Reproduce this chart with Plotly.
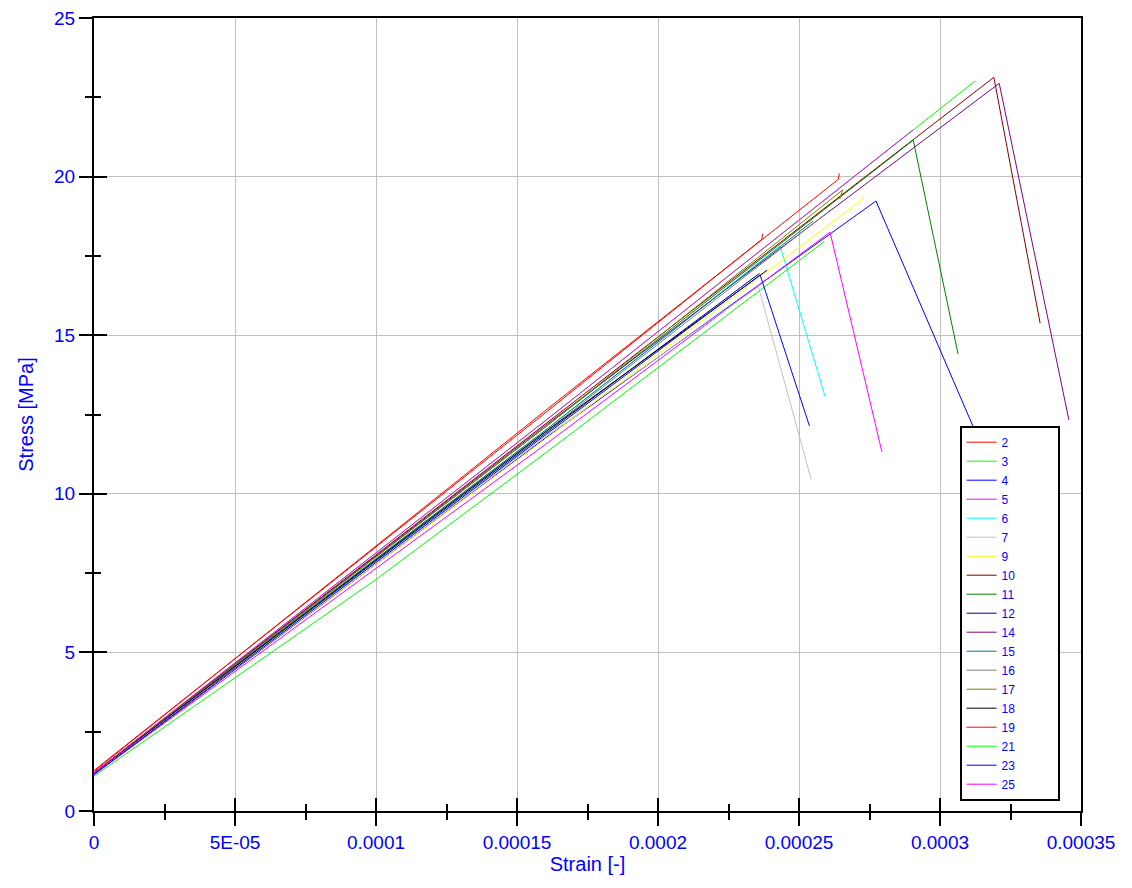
import plotly.graph_objects as go

# ---- data ----
names = ["2", "3", "4", "5", "6", "7", "9", "10", "11", "12", "14", "15",
         "16", "17", "18", "19", "21", "23", "25"]
colors = ["#FF0000", "#00FF00", "#0000FF", "#FF00FF", "#00FFFF", "#C0C0C0",
          "#FFFF00", "#800000", "#008000", "#000080", "#800080", "#008080",
          "#808080", "#808000", "#000000", "#FF0000", "#00FF00", "#0000FF",
          "#FF00FF"]

strain_2 = [0, 0.00016, 0.0002639, 0.0002643]
stress_2 = [1.25, 12.62, 19.91, 20.10]
strain_3 = [0, 0.00016, 0.0003124]
stress_3 = [1.2, 12.3, 23.01]
strain_4 = [0, 0.00016, 0.0002773, 0.000319]
stress_4 = [1.15, 11.75, 19.23, 10.62]
strain_5 = [0, 0.00016, 0.000261, 0.0002794]
stress_5 = [1.15, 11.55, 18.25, 11.32]
strain_6 = [0, 0.00016, 0.0002433, 0.0002592]
stress_6 = [1.2, 12.0, 17.81, 13.08]
strain_7 = [0, 0.00016, 0.0002356, 0.0002543]
stress_7 = [1.2, 11.8, 16.53, 10.46]
strain_9 = [0, 0.00016, 0.0002722, 0.0002728]
stress_9 = [1.2, 11.72, 19.26, 19.37]
strain_10 = [0, 0.00016, 0.0003191, 0.0003355]
stress_10 = [1.2, 12.2, 23.13, 15.38]
strain_11 = [0, 0.00016, 0.0002905, 0.0003064]
stress_11 = [1.2, 12.1, 21.15, 14.41]
strain_12 = [0, 0.00016, 0.000236]
stress_12 = [1.2, 11.9, 16.95]
strain_14 = [0, 0.00016, 0.000321, 0.0003457]
stress_14 = [1.2, 12.15, 22.94, 12.33]
strain_15 = [0, 0.00016, 0.000255]
stress_15 = [1.2, 12.0, 18.6]
strain_16 = [0, 0.00016, 0.000262]
stress_16 = [1.2, 11.95, 19.0]
strain_17 = [0, 0.00016, 0.0002655, 0.0002645]
stress_17 = [1.2, 12.1, 19.58, 19.3]
strain_18 = [0, 0.00016, 0.0002387]
stress_18 = [1.2, 11.95, 17.05]
strain_19 = [0, 0.00016, 0.0002368, 0.0002371]
stress_19 = [1.28, 12.55, 18.02, 18.19]
strain_21 = [0, 0.0001, 0.00016, 0.0002589]
stress_21 = [1.1, 7.3, 11.28, 17.95]
strain_23 = [0, 0.00016, 0.0002362, 0.0002537]
stress_23 = [1.15, 11.85, 16.90, 12.14]
strain_25 = [0, 0.00016, 0.0002904]
stress_25 = [1.2, 12.3, 21.47]

strains = [strain_2, strain_3, strain_4, strain_5, strain_6, strain_7, strain_9,
           strain_10, strain_11, strain_12, strain_14, strain_15, strain_16,
           strain_17, strain_18, strain_19, strain_21, strain_23, strain_25]
stresses = [stress_2, stress_3, stress_4, stress_5, stress_6, stress_7, stress_9,
            stress_10, stress_11, stress_12, stress_14, stress_15, stress_16,
            stress_17, stress_18, stress_19, stress_21, stress_23, stress_25]

x_tickvals = [0, 0.00005, 0.0001, 0.00015, 0.0002, 0.00025, 0.0003, 0.00035]
x_ticktext = ["0", "5E-05", "0.0001", "0.00015", "0.0002", "0.00025", "0.0003", "0.00035"]
y_tickvals = [0, 5, 10, 15, 20, 25]
y_ticktext = ["0", "5", "10", "15", "20", "25"]

FONT = "Liberation Sans, Arial, sans-serif"
BLUE = "#0000FF"
PAD = "\u00a0" * 11  # widens the legend box like the reference

fig = go.Figure()
for n, c, xs, ys in zip(names, colors, strains, stresses):
    fig.add_trace(go.Scatter(x=xs, y=ys, mode="lines", name=n + PAD,
                             line=dict(color=c, width=1)))

# invisible trace for the overlay axes (inside half of crossing ticks)
fig.add_trace(go.Scatter(x=[0], y=[0], xaxis="x2", yaxis="y2", mode="markers",
                         marker=dict(opacity=0), showlegend=False, hoverinfo="skip"))

fig.update_layout(
    width=1132, height=888,
    margin=dict(l=94, r=51, t=18, b=77),
    paper_bgcolor="white", plot_bgcolor="white",
    font=dict(family=FONT, color=BLUE),
    xaxis=dict(range=[0, 0.00035], tickvals=x_tickvals, ticktext=x_ticktext,
               tickfont=dict(size=19, color=BLUE, family=FONT),
               ticks="outside", ticklen=13, tickwidth=2, tickcolor="black",
               minor=dict(dtick=0.000025, ticks="outside", ticklen=7,
                          tickwidth=2, tickcolor="black", showgrid=False),
               showgrid=True, gridcolor="#C0C0C0", gridwidth=1,
               showline=True, linecolor="black", linewidth=2, mirror=True,
               zeroline=False, automargin=False,
               title=dict(text="Strain [-]", font=dict(size=20, color=BLUE, family=FONT),
                          standoff=4)),
    yaxis=dict(range=[0, 25], tickvals=y_tickvals, ticktext=y_ticktext,
               tickfont=dict(size=19, color=BLUE, family=FONT),
               ticks="outside", ticklen=13, tickwidth=2, tickcolor="black",
               minor=dict(dtick=2.5, ticks="outside", ticklen=7,
                          tickwidth=2, tickcolor="black", showgrid=False),
               showgrid=True, gridcolor="#C0C0C0", gridwidth=1,
               showline=True, linecolor="black", linewidth=2, mirror=True,
               zeroline=False, automargin=False,
               title=dict(text="Stress [MPa]", font=dict(size=20, color=BLUE, family=FONT),
                          standoff=15)),
    xaxis2=dict(overlaying="x", anchor="y2", side="bottom", range=[0, 0.00035],
                tickvals=x_tickvals, showticklabels=False,
                ticks="inside", ticklen=13, tickwidth=2, tickcolor="black",
                minor=dict(dtick=0.000025, ticks="inside", ticklen=7,
                           tickwidth=2, tickcolor="black", showgrid=False),
                showgrid=False, showline=False, zeroline=False, automargin=False),
    yaxis2=dict(overlaying="y", anchor="x2", side="left", range=[0, 25],
                tickvals=y_tickvals, showticklabels=False,
                ticks="inside", ticklen=13, tickwidth=2, tickcolor="black",
                minor=dict(dtick=2.5, ticks="inside", ticklen=7,
                           tickwidth=2, tickcolor="black", showgrid=False),
                showgrid=False, showline=False, zeroline=False, automargin=False),
    legend=dict(x=0.877, y=0.013, xanchor="left", yanchor="bottom",
                bgcolor="white", bordercolor="black", borderwidth=2,
                font=dict(size=12, color=BLUE, family=FONT),
                itemwidth=30, tracegroupgap=0),
    showlegend=True,
)

fig.write_html("out.html", config={"displayModeBar": False},
               post_script="document.body.style.margin='0';")
